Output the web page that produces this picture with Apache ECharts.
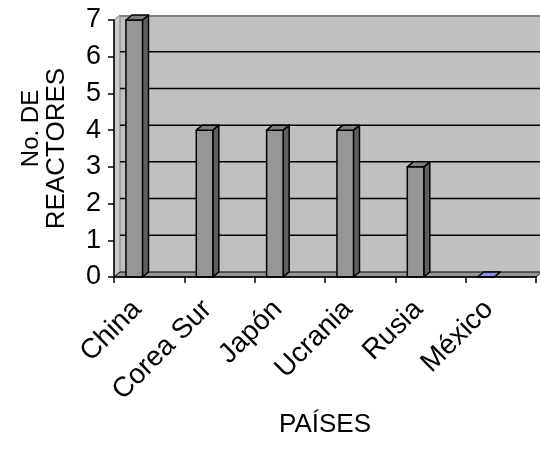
<!DOCTYPE html>
<html>
<head>
<meta charset="utf-8">
<script src="https://cdn.jsdelivr.net/npm/echarts@6/dist/echarts.min.js"></script>
<style>html,body{margin:0;padding:0;background:#fff}#c{width:540px;height:449px}</style>
</head>
<body>
<div id="c"></div>
<script>
const categories = ['China', 'Corea Sur', 'Japón', 'Ucrania', 'Rusia', 'México'];
const reactors = [7, 4, 4, 4, 3, 0];
const yTicks = [0, 1, 2, 3, 4, 5, 6, 7];
const gridValues = [1, 2, 3, 4, 5, 6];

const frontColors = ['#969696', '#969696', '#969696', '#969696', '#969696', '#9999ff'];
const topColors = ['#808080', '#808080', '#808080', '#808080', '#808080', '#8c8ce0'];
const sideColors = ['#5f5f5f', '#5f5f5f', '#5f5f5f', '#5f5f5f', '#5f5f5f', '#6666bb'];
const DX = 6, DY = -5;
const FONT = '"Liberation Sans", Arial, sans-serif';

const chart = echarts.init(document.getElementById('c'), null, {renderer: 'canvas'});

function wallItem(params, api) {
  const cs = params.coordSys;
  const x = cs.x, y = cs.y, w = cs.width, h = cs.height;
  const children = [
    {type: 'rect', shape: {x: x + DX, y: y + DY, width: w, height: h}, style: {fill: '#c0c0c0'}},
    {type: 'polygon', shape: {points: [[x, y], [x + DX, y + DY], [x + DX, y + h + DY], [x, y + h]]}, style: {fill: '#cacaca', stroke: '#808080', lineWidth: 1}},
    {type: 'polygon', shape: {points: [[x, y + h], [x + DX, y + h + DY], [x + w + DX, y + h + DY], [x + w, y + h]]}, style: {fill: '#969696', stroke: '#000', lineWidth: 1}},
    {type: 'line', shape: {x1: x + DX, y1: y + DY + 1, x2: x + w + DX, y2: y + DY + 1}, style: {stroke: '#808080', lineWidth: 2}}
  ];
  gridValues.forEach(v => {
    const p = api.coord([0, v]);
    children.push({type: 'line', shape: {x1: x + DX, y1: p[1] + DY, x2: x + w + DX, y2: p[1] + DY}, style: {stroke: '#000', lineWidth: 1.5}});
  });
  return {type: 'group', children};
}

function barItem(params, api) {
  const i = params.dataIndex;
  const c0 = api.coord([api.value(0), 0]);
  const c1 = api.coord([api.value(0), api.value(1)]);
  const band = api.size([1, 0])[0];
  const bw = band * 0.235;
  const left = c0[0] - band * 0.33;
  const yt = c1[1], yb = c0[1];
  const st = {stroke: '#000', lineWidth: 1.5, lineJoin: 'round'};
  return {type: 'group', children: [
    {type: 'polygon', shape: {points: [[left + bw, yt], [left + bw + DX, yt + DY], [left + bw + DX, yb + DY], [left + bw, yb]]}, style: Object.assign({fill: sideColors[i]}, st)},
    {type: 'rect', shape: {x: left, y: yt, width: bw, height: yb - yt}, style: Object.assign({fill: frontColors[i]}, st)},
    {type: 'polygon', shape: {points: [[left, yt], [left + DX, yt + DY], [left + bw + DX, yt + DY], [left + bw, yt]]}, style: Object.assign({fill: topColors[i]}, st)}
  ]};
}

chart.setOption({
  animation: false,
  backgroundColor: '#fff',
  grid: {left: 114, right: 4, top: 20, bottom: 172, containLabel: false},
  xAxis: {
    type: 'category',
    data: categories,
    boundaryGap: true,
    name: 'PAÍSES',
    nameLocation: 'middle',
    nameGap: 124,
    nameTextStyle: {fontFamily: FONT, fontSize: 26, color: '#000'},
    axisLine: {show: true, lineStyle: {color: '#000', width: 1.5}},
    axisTick: {show: true, length: 6, lineStyle: {color: '#000', width: 1.5}},
    axisLabel: {rotate: 45, margin: 16, padding: [0, 17, 0, 0], fontFamily: FONT, fontSize: 28, color: '#000', interval: 0},
    splitLine: {show: false},
    z: 10
  },
  yAxis: {
    type: 'value',
    min: yTicks[0],
    max: yTicks[yTicks.length - 1],
    interval: 1,
    name: '{a|No. DE}\n{b|REACTORES}',
    nameLocation: 'middle',
    nameRotate: 90,
    nameGap: 44,
    nameTextStyle: {
      fontFamily: FONT, fontSize: 26, color: '#000', lineHeight: 26,
      rich: {
        a: {fontFamily: FONT, fontSize: 24, color: '#000', lineHeight: 26, padding: [0, 0, 0, 40]},
        b: {fontFamily: FONT, fontSize: 26, color: '#000', lineHeight: 26}
      }
    },
    axisLine: {show: true, lineStyle: {color: '#000', width: 1.5}},
    axisTick: {show: true, length: 6, lineStyle: {color: '#000', width: 1.5}},
    axisLabel: {margin: 13, fontFamily: FONT, fontSize: 27, color: '#000'},
    splitLine: {show: false},
    z: 10
  },
  series: [
    {type: 'custom', renderItem: wallItem, data: [[0, 0]], silent: true, z: 1, clip: false},
    {type: 'custom', renderItem: barItem, data: reactors.map((v, i) => [i, v]), z: 5, clip: false}
  ]
});
</script>
</body>
</html>
